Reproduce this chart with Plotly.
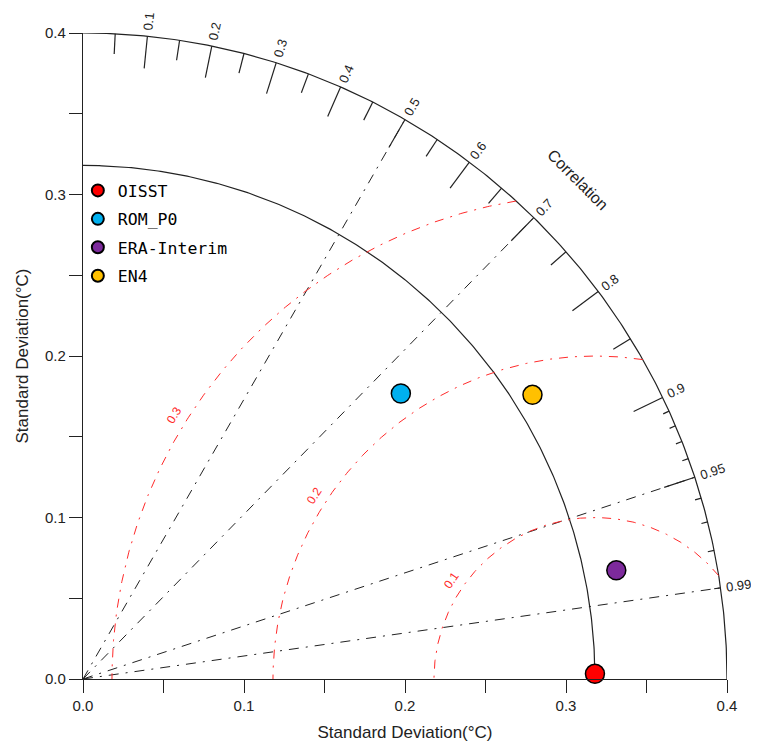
import numpy as np
import plotly.graph_objects as go

# data
names = ["OISST", "ROM_P0", "ERA-Interim", "EN4"]
stds = [0.318, 0.265, 0.338, 0.330]
corrs = [0.99995, 0.745, 0.980, 0.846]
colors = ["#ff0000", "#00b0ef", "#7d2a9c", "#ffc000"]

ref_std = 0.318
max_std = 0.4
corr_major = [0.1, 0.2, 0.3, 0.4, 0.5, 0.6, 0.7, 0.8, 0.9, 0.95]
corr_labels = ["0.1", "0.2", "0.3", "0.4", "0.5", "0.6", "0.7", "0.8", "0.9", "0.95", "0.99"]
corr_minor = [0.05, 0.15, 0.25, 0.35, 0.45, 0.55, 0.65, 0.75, 0.85]
corr_fine = [0.91, 0.92, 0.93, 0.94, 0.96, 0.97, 0.98, 0.99]
corr_lines = [0.5, 0.7, 0.95, 0.99]
rms_levels = [0.1, 0.2, 0.3]

_INK = "#222222"
_RED = "#ff2a2a"
_FONT = "Liberation Sans, Arial, sans-serif"


def _ticks(clist, length):
    xs, ys = [], []
    for c in clist:
        t = np.arccos(c)
        for r in (max_std, max_std - length):
            xs.append(r * np.cos(t))
            ys.append(r * np.sin(t))
        xs.append(None)
        ys.append(None)
    return xs, ys


def _label(x, y, text, angle, size, color):
    # annotations outside the axis range get hidden, so place them in paper units
    fig.add_annotation(
        x=x / max_std, y=y / max_std, xref="paper", yref="paper",
        xanchor="center", yanchor="middle", text=text, showarrow=False,
        textangle=angle, font=dict(color=color, size=size, family=_FONT),
    )


fig = go.Figure()

# outer arc and reference std arc
th = np.linspace(0, np.pi / 2, 300)
for r in (max_std, ref_std):
    fig.add_trace(go.Scatter(
        x=r * np.cos(th), y=r * np.sin(th), mode="lines",
        line=dict(color=_INK, width=1.2), hoverinfo="skip", showlegend=False,
    ))

# radial correlation lines
for c in corr_lines:
    t = np.arccos(c)
    fig.add_trace(go.Scatter(
        x=[0, max_std * np.cos(t)], y=[0, max_std * np.sin(t)], mode="lines",
        line=dict(color=_INK, width=1, dash="10px,7px,2px,7px"),
        hoverinfo="skip", showlegend=False,
    ))

# RMS difference arcs
for lev, ang in zip(rms_levels, (145.5, 147, 148)):
    x_int = (max_std**2 - lev**2 + ref_std**2) / (2 * ref_std)
    ratio = (x_int - ref_std) / lev
    phi0 = np.arccos(min(ratio, 1.0))
    phi = np.linspace(phi0, np.pi, 300)
    fig.add_trace(go.Scatter(
        x=ref_std + lev * np.cos(phi), y=lev * np.sin(phi), mode="lines",
        line=dict(color=_RED, width=1, dash="9px,7px,2px,7px"),
        hoverinfo="skip", showlegend=False,
    ))
    pa = np.radians(ang)
    _label(ref_std + (lev + 0.008) * np.cos(pa), (lev + 0.008) * np.sin(pa),
           f"{lev:.1f}", -(ang - 90), 12, _RED)

# ticks on the correlation arc
for clist, ln in ((corr_major, 0.02), (corr_minor, 0.0125), (corr_fine, 0.004)):
    tx, ty = _ticks(clist, ln)
    fig.add_trace(go.Scatter(
        x=tx, y=ty, mode="lines", line=dict(color=_INK, width=1.2),
        hoverinfo="skip", showlegend=False,
    ))

for lab in corr_labels:
    t = np.arccos(float(lab))
    r = max_std + (3 + len(lab) * 3.9) / 1612
    _label(r * np.cos(t), r * np.sin(t), lab, -np.degrees(t), 13, _INK)

ca = np.radians(45.2)
_label(0.436 * np.cos(ca), 0.436 * np.sin(ca), "Correlation", 45, 16, _INK)

# data points
for n, s, c, col in zip(names, stds, corrs, colors):
    t = np.arccos(c)
    fig.add_trace(go.Scatter(
        x=[s * np.cos(t)], y=[s * np.sin(t)], mode="markers", name=n,
        legendgroup=n, cliponaxis=False,
        marker=dict(size=19, color=col, line=dict(color="black", width=1.5)),
    ))

_axis = dict(
    range=[0, 0.4], showgrid=False, zeroline=False, showline=True,
    linecolor=_INK, linewidth=1.2, ticks="outside", ticklen=13, tickwidth=1.2,
    tickcolor=_INK, tickvals=[0, 0.1, 0.2, 0.3, 0.4], tickformat=".1f",
    minor=dict(dtick=0.05, ticks="outside", ticklen=13, tickwidth=1.2, tickcolor=_INK),
    tickfont=dict(size=15, color=_INK, family=_FONT),
)

fig.update_layout(
    width=759, height=745,
    margin=dict(l=75, r=40, t=25, b=74),
    paper_bgcolor="white", plot_bgcolor="white",
    xaxis=dict(**_axis, title=dict(text="Standard Deviation(°C)", standoff=13,
                                   font=dict(size=17, color=_INK, family=_FONT))),
    yaxis=dict(**_axis, title=dict(text="Standard Deviation(°C)", standoff=12,
                                   font=dict(size=17, color=_INK, family=_FONT))),
    legend=dict(
        x=-0.008, y=0.783, xanchor="left", yanchor="top",
        bgcolor="rgba(0,0,0,0)", tracegroupgap=4, itemsizing="constant",
        font=dict(size=16.5, color="black", family="DejaVu Sans Mono, monospace"),
    ),
    showlegend=True,
)

fig.write_html("out.html")
